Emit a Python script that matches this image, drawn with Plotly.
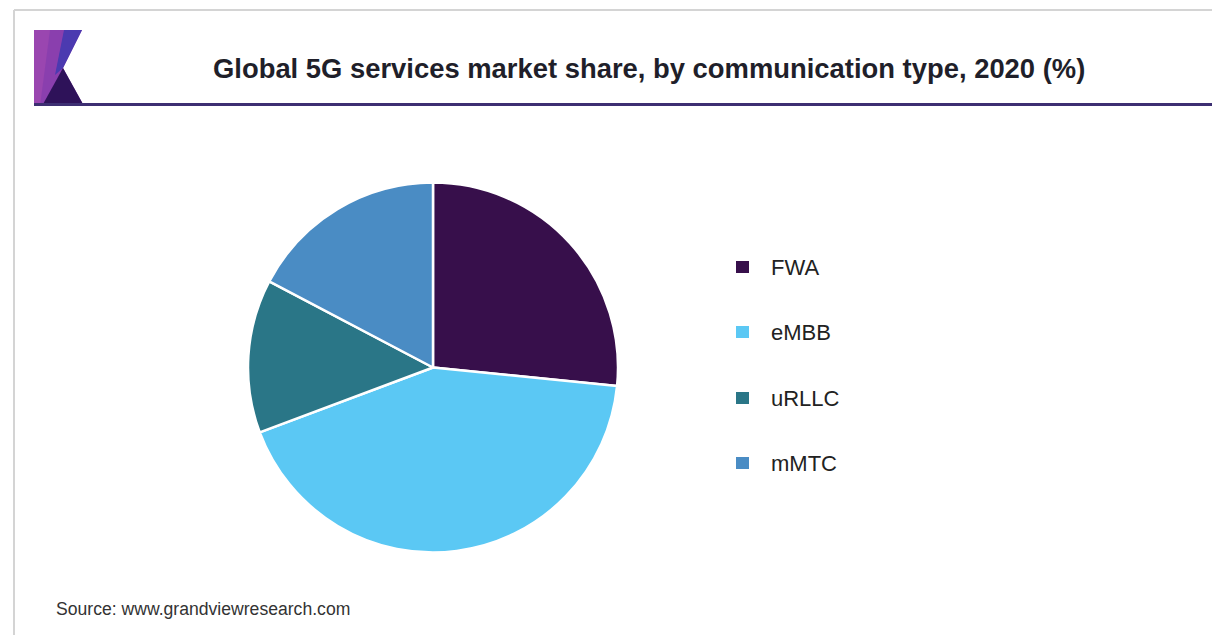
import plotly.graph_objects as go

# ---- data ----
categories = ["FWA", "eMBB", "uRLLC", "mMTC"]
shares = [26.6, 42.7, 13.4, 17.3]
colors = ["#370f4b", "#5bc8f4", "#2a7687", "#4a8cc4"]

title_text = "Global 5G services market share, by communication type, 2020 (%)"
source_text = "Source: www.grandviewresearch.com"

# page body has an 8px margin; figure sized to fit the 1220x635 window
OFF = 8
W, H = 1212, 627


def px(x):
    return (x - OFF) / W


def py(y):
    return 1 - (y - OFF) / H


fig = go.Figure()
fig.add_trace(go.Pie(
    labels=categories,
    values=shares,
    sort=False,
    direction="clockwise",
    rotation=0,
    marker=dict(colors=colors, line=dict(color="white", width=2.5)),
    textinfo="none",
    hoverinfo="label+value",
    showlegend=False,
    domain=dict(x=[px(248), px(618)], y=[py(553), py(182)]),
))

shapes = []
annotations = []

# frame border
shapes.append(dict(type="line", xref="paper", yref="paper", x0=px(14), x1=1, y0=py(10), y1=py(10),
                   line=dict(color="#d4d4d4", width=2)))
shapes.append(dict(type="line", xref="paper", yref="paper", x0=px(14), x1=px(14), y0=py(10), y1=0,
                   line=dict(color="#d4d4d4", width=2)))


def path(points):
    return "M " + " L ".join(f"{px(x)},{py(y)}" for x, y in points) + " Z"


# logo
shapes.append(dict(type="path", xref="paper", yref="paper",
                   path=path([(34, 30), (82, 30), (63, 68), (84, 106), (34, 106)]),
                   fillcolor="#8a3fae", line=dict(width=0)))
shapes.append(dict(type="path", xref="paper", yref="paper",
                   path=path([(34, 30), (50, 30), (40, 106), (34, 106)]),
                   fillcolor="#9a46b0", line=dict(width=0)))
shapes.append(dict(type="path", xref="paper", yref="paper",
                   path=path([(64, 30), (82, 30), (63, 68), (55, 75)]),
                   fillcolor="#4b3ab0", line=dict(width=0)))
shapes.append(dict(type="path", xref="paper", yref="paper",
                   path=path([(42, 106), (63, 68), (84, 106)]),
                   fillcolor="#2e1259", line=dict(width=0)))

# title underline
shapes.append(dict(type="line", xref="paper", yref="paper", x0=px(34), x1=px(1215), y0=py(104.5), y1=py(104.5),
                   line=dict(color="#3d2f72", width=3)))

# title
annotations.append(dict(text=f"<b>{title_text}</b>", xref="paper", yref="paper",
                        x=px(649), y=py(69), xanchor="center", yanchor="middle", showarrow=False,
                        font=dict(family="Liberation Sans, Arial, sans-serif", size=27.4, color="#1f1f2a")))

# legend (built from data lists)
legend_rows = [267, 332, 398, 463]
for cat, col, yy in zip(categories, colors, legend_rows):
    shapes.append(dict(type="rect", xref="paper", yref="paper",
                       x0=px(736), x1=px(749), y0=py(yy + 6), y1=py(yy - 6),
                       fillcolor=col, line=dict(width=0)))
    annotations.append(dict(text=cat, xref="paper", yref="paper", x=px(769), y=py(yy),
                            xanchor="left", yanchor="middle", showarrow=False,
                            font=dict(family="Liberation Sans, Arial, sans-serif", size=22, color="#222222")))

# source
annotations.append(dict(text=source_text, xref="paper", yref="paper", x=px(54), y=py(609),
                        xanchor="left", yanchor="middle", showarrow=False,
                        font=dict(family="Liberation Sans, Arial, sans-serif", size=17.6, color="#333333")))

fig.update_layout(
    width=W, height=H,
    margin=dict(l=0, r=0, t=0, b=0),
    paper_bgcolor="white",
    plot_bgcolor="white",
    shapes=shapes,
    annotations=annotations,
    showlegend=False,
)

fig.write_html("out.html")
